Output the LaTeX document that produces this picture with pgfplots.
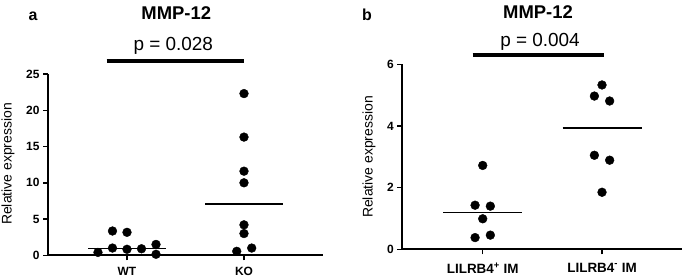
\documentclass[border=0pt]{standalone}
\usepackage{pgfplots}
\pgfplotsset{compat=1.18}
\usepackage{fontspec}
\setmainfont{Liberation Sans}
\begin{document}
\begin{tikzpicture}[x=1bp,y=1bp]
\pgfplotsset{
  dotstyle/.style={only marks, mark=*, mark size=4.4bp, black},
  medstyle/.style={no marks, black, line width=1.6bp},
  panel/.style={
    scale only axis, anchor=south west, clip=false,
    axis x line=bottom, axis y line=left,
    axis line style={-, line width=1.8bp, black},
    tick style={line width=1.5bp, black},
    major tick length=5bp, tick align=outside,
    enlargelimits=false,
    xtick={1,2},
    tick label style={font=\bfseries\fontsize{12}{13}\selectfont, black},
    xticklabel style={yshift=-3bp},
  }
}
% ---------- panel a ----------
\begin{axis}[panel, at={(48bp,22.7bp)}, width=275.3bp, height=181.3bp,
  xmin=0.3248, xmax=2.678, ymin=0, ymax=25,
  xticklabels={WT,KO},
  ytick={0,5,10,15,20,25}, yticklabels={0,5,10,15,20,25}]
\addplot[dotstyle] coordinates {
 (0.752,0.40) (0.876,3.35) (1.000,3.17) (0.876,1.00) (1.000,0.83)
 (1.124,0.90) (1.248,1.50) (1.248,0.14)};
\addplot[dotstyle] coordinates {
 (2,22.3) (2,16.3) (2,11.6) (2,10.0) (2,4.2) (2,3.0) (2.066,1.0) (1.938,0.55)};
\addplot[medstyle] coordinates {(0.667,0.95) (1.333,0.95)};
\addplot[medstyle] coordinates {(1.667,7.1) (2.333,7.1)};
\draw[line width=3.6bp, black] (axis cs:0.8265,26.8) -- (axis cs:2.0,26.8);
\end{axis}
% ---------- panel b ----------
\begin{axis}[panel, at={(402.3bp,28.7bp)}, width=279.4bp, height=185bp,
  xmin=0.326, xmax=2.668, ymin=0, ymax=6,
  xticklabels={LILRB4\textsuperscript{+} IM, LILRB4\textsuperscript{-} IM},
  xticklabel style={font=\bfseries\fontsize{13.5}{15}\selectfont, yshift=-2bp},
  ytick={0,2,4,6}, yticklabels={0,2,4,6}]
\addplot[dotstyle] coordinates {
 (1,2.72) (0.936,1.43) (1.064,1.40) (1,0.99) (0.936,0.38) (1.064,0.46)};
\addplot[dotstyle] coordinates {
 (2,5.33) (1.936,4.97) (2.064,4.81) (1.936,3.05) (2.064,2.89) (2,1.85)};
\addplot[medstyle] coordinates {(0.669,1.2) (1.331,1.2)};
\addplot[medstyle] coordinates {(1.669,3.94) (2.331,3.94)};
\draw[line width=3.6bp, black] (axis cs:0.916,6.30) -- (axis cs:2.017,6.30);
\end{axis}
% ---------- texts ----------
\node[anchor=base, font=\bfseries\fontsize{16}{18}\selectfont] at (33,258) {a};
\node[anchor=base, font=\bfseries\fontsize{16}{18}\selectfont] at (367,258) {b};
\node[anchor=base, font=\bfseries\fontsize{18.5}{20}\selectfont] at (176.3,259) {MMP-12};
\node[anchor=base, font=\fontsize{19}{21}\selectfont] at (173.3,228) {p = 0.028};
\node[anchor=base, font=\bfseries\fontsize{18.5}{20}\selectfont] at (538,259.7) {MMP-12};
\node[anchor=base, font=\fontsize{19}{21}\selectfont] at (540,232) {p = 0.004};
\node[rotate=90, font=\fontsize{14}{16}\selectfont] at (8,114) {Relative expression};
\node[rotate=90, font=\fontsize{14}{16}\selectfont] at (369,121) {Relative expression};
\pgfresetboundingbox
\path[use as bounding box] (0,0) rectangle (685,278);
\end{tikzpicture}
\end{document}
